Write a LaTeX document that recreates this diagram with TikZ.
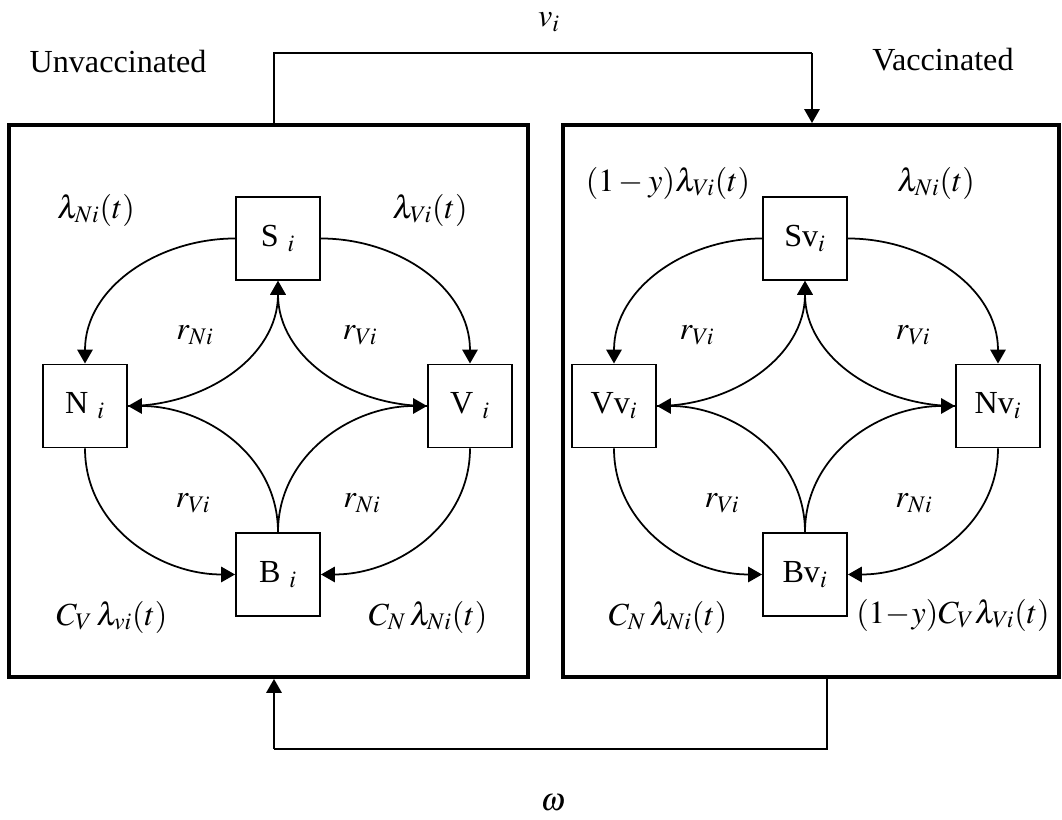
\documentclass[tikz,border=0pt]{standalone}
\usepackage{mathptmx}
\usepackage[no-math]{fontspec}
\setmainfont{Liberation Serif}
\usepackage{tikz}
\usetikzlibrary{arrows.meta}

\begin{document}
\begin{tikzpicture}[
  x=0.02cm, y=0.02cm,
  font=\fontsize{18.3}{22}\selectfont,
  panel/.style={draw, line width=2.3pt, inner sep=0pt},
  comp/.style={draw, line width=1.1pt, minimum width=1.68cm, minimum height=1.66cm, inner sep=0pt},
  flow/.style={-{Triangle[length=0.28cm,width=0.31cm]}, line width=1pt},
  link/.style={line width=1pt},
]
\useasboundingbox (0,0) rectangle (1062,820);
% the two groups
\node[panel, minimum width=10.38cm, minimum height=11.04cm] (unvac) at (268.5,419) {};
\node[panel, minimum width=9.92cm, minimum height=11.04cm] (vac) at (811,419) {};
\node (unvacT) at (118,758) {Unvaccinated};
\node (vacT) at (943,760) {Vaccinated};
% vaccination and waning
\coordinate (topL) at (274,767);
\coordinate (topR) at (812,767);
\coordinate (botR) at (827,71);
\coordinate (botL) at (274,71);
\draw[link] (topL |- unvac.north) -- (topL) -- (topR);
\draw[flow] (topR) -- (topR |- vac.north);
\draw[link] (botR |- vac.south) -- (botR) -- (botL);
\draw[flow] (botL) -- (botL |- unvac.south);
\node (vi) at (549,798) {$v_i$};
\node (om) at (553,17) {$\omega$};
% unvaccinated compartments
\node[comp] (S) at (278,581.5) {S\;$_i$};
\node[comp] (N) at (85,414) {N\;$_i$};
\node[comp] (V) at (470,414) {V\;$_i$};
\node[comp] (B) at (278,245.5) {B\;$_i$};
\draw[flow] (S.west) to[out=180,in=90] (N.north);
\draw[flow] (S.east) to[out=0,in=90] (V.north);
\draw[flow] (N.east) to[out=0,in=-90] (S.south);
\draw[flow] (V.west) to[out=180,in=-90] (S.south);
\draw[flow] (B.north) to[out=90,in=0] (N.east);
\draw[flow] (B.north) to[out=90,in=180] (V.west);
\draw[flow] (N.south) to[out=-90,in=180] (B.west);
\draw[flow] (V.south) to[out=-90,in=0] (B.east);
\node (lNu) at (96,610) {$\lambda_{Ni}(t)$};
\node (lVu) at (430,610) {$\lambda_{Vi}(t)$};
\node (rNu) at (195,485) {$r_{Ni}$};
\node (rVu) at (360,485) {$r_{Vi}$};
\node (rVlu) at (193,317) {$r_{Vi}$};
\node (rNlu) at (362,317) {$r_{Ni}$};
\node (cVu) at (112,203) {$C_V\,\lambda_{vi}(t)$};
\node (cNu) at (428,203) {$C_N\,\lambda_{Ni}(t)$};
% vaccinated compartments
\node[comp] (Sv) at (805,581.5) {Sv$_i$};
\node[comp] (Vv) at (614,414) {Vv$_i$};
\node[comp] (Nv) at (998,414) {Nv$_i$};
\node[comp] (Bv) at (805,245.5) {Bv$_i$};
\draw[flow] (Sv.west) to[out=180,in=90] (Vv.north);
\draw[flow] (Sv.east) to[out=0,in=90] (Nv.north);
\draw[flow] (Vv.east) to[out=0,in=-90] (Sv.south);
\draw[flow] (Nv.west) to[out=180,in=-90] (Sv.south);
\draw[flow] (Bv.north) to[out=90,in=0] (Vv.east);
\draw[flow] (Bv.north) to[out=90,in=180] (Nv.west);
\draw[flow] (Vv.south) to[out=-90,in=180] (Bv.west);
\draw[flow] (Nv.south) to[out=-90,in=0] (Bv.east);
\node (lVv) at (668,637) {$(1-y)\lambda_{Vi}(t)$};
\node (lNv) at (936,637) {$\lambda_{Ni}(t)$};
\node (rVv) at (697,485) {$r_{Vi}$};
\node (rVv2) at (913,485) {$r_{Vi}$};
\node (rVlv) at (722,317) {$r_{Vi}$};
\node (rNlv) at (914,317) {$r_{Ni}$};
\node (cNv) at (668,203) {$C_N\,\lambda_{Ni}(t)$};
\node (cVv) at (953,205) {$(1\!-\!y)C_V\lambda_{Vi}(t)$};
\end{tikzpicture}
\end{document}
